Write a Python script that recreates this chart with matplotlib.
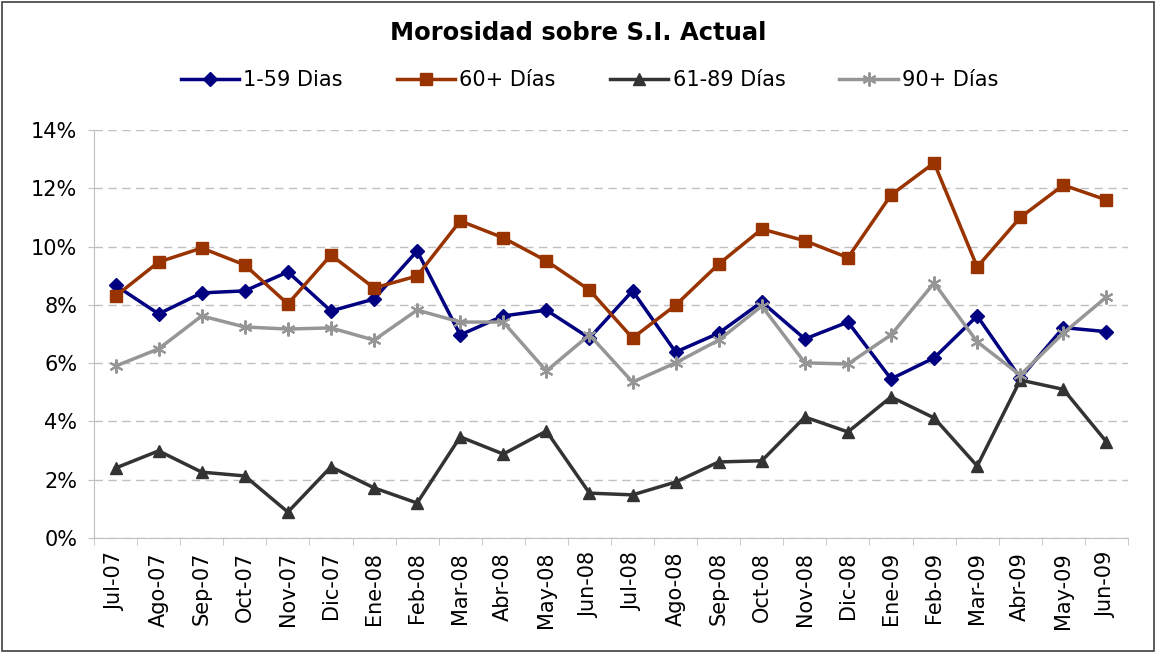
import matplotlib.pyplot as plt
from matplotlib.patches import Rectangle
from matplotlib.ticker import FixedLocator, PercentFormatter

meses = ['Jul-07', 'Ago-07', 'Sep-07', 'Oct-07', 'Nov-07', 'Dic-07', 'Ene-08', 'Feb-08',
         'Mar-08', 'Abr-08', 'May-08', 'Jun-08', 'Jul-08', 'Ago-08', 'Sep-08', 'Oct-08',
         'Nov-08', 'Dic-08', 'Ene-09', 'Feb-09', 'Mar-09', 'Abr-09', 'May-09', 'Jun-09']

d1_59 = [8.67, 7.69, 8.41, 8.48, 9.13, 7.79, 8.20, 9.85, 6.97, 7.62, 7.82, 6.86,
         8.48, 6.38, 7.03, 8.10, 6.83, 7.41, 5.46, 6.18, 7.62, 5.49, 7.22, 7.08]
d60 = [8.30, 9.47, 9.95, 9.37, 8.03, 9.71, 8.58, 8.99, 10.88, 10.30, 9.51, 8.51,
       6.86, 7.99, 9.40, 10.60, 10.20, 9.62, 11.77, 12.87, 9.30, 11.00, 12.11, 11.60]
d61_89 = [2.40, 2.99, 2.26, 2.13, 0.89, 2.44, 1.72, 1.20, 3.47, 2.88, 3.67, 1.54,
          1.48, 1.92, 2.61, 2.65, 4.15, 3.64, 4.84, 4.12, 2.47, 5.42, 5.10, 3.30]
d90 = [5.90, 6.49, 7.62, 7.24, 7.17, 7.21, 6.79, 7.82, 7.41, 7.41, 5.73, 6.97,
       5.35, 6.01, 6.79, 7.96, 6.01, 5.97, 6.97, 8.75, 6.73, 5.59, 7.03, 8.27]

fig = plt.figure(figsize=(11.56, 6.53), dpi=100)
ax = fig.add_axes([94 / 1156, 115 / 653, 1034 / 1156, 408 / 653])

x = range(len(meses))
ax.plot(x, d1_59, color='#000080', lw=2.5, marker='D', ms=7, label='1-59 Dias')
ax.plot(x, d60, color='#993300', lw=2.5, marker='s', ms=8, label='60+ Días')
ax.plot(x, d61_89, color='#333333', lw=2.5, marker='^', ms=9, label='61-89 Días')
ax.plot(x, d90, color='#969696', lw=2.5, marker=(6, 2, 0), ms=10, mew=1.5, label='90+ Días')

ax.set_xlim(-0.5, len(meses) - 0.5)
ax.set_ylim(0, 14)
ax.set_yticks(range(0, 15, 2))
ax.yaxis.set_major_formatter(PercentFormatter(decimals=0))
ax.set_xticks(list(x))
ax.set_xticklabels(meses, rotation=90, fontsize=15)
ax.tick_params(axis='x', which='major', length=0, pad=10)
ax.xaxis.set_minor_locator(FixedLocator([i - 0.5 for i in range(len(meses) + 1)]))
ax.tick_params(axis='x', which='minor', length=5, color='#c0c0c0')
ax.tick_params(axis='y', labelsize=15, length=4, pad=8, color='#c0c0c0')

ax.grid(axis='y', color='#c0c0c0', linestyle=(0, (6, 4)), lw=1)
ax.set_axisbelow(True)
for s in ['top', 'right']:
    ax.spines[s].set_visible(False)
ax.spines['left'].set_color('#c0c0c0')
ax.spines['bottom'].set_color('#c0c0c0')

fig.text(0.5, 1 - 33 / 653, 'Morosidad sobre S.I. Actual', ha='center', va='center',
         fontsize=17.5, fontweight='bold')

fig.legend(loc='center', bbox_to_anchor=(0.51, 1 - 80 / 653), ncol=4, frameon=False,
           fontsize=15, handlelength=2.8, handletextpad=0.2, columnspacing=2.6)

fig.patches.append(Rectangle((0.002, 0.003), 0.996, 0.994, transform=fig.transFigure,
                             fill=False, edgecolor='#404040', lw=1.2))

plt.savefig('out.png', dpi=100)
plt.close()
